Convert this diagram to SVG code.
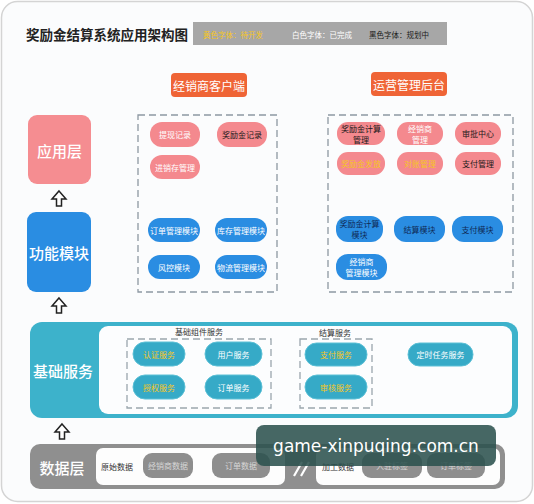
<svg xmlns="http://www.w3.org/2000/svg" width="534" height="504" viewBox="0 0 534 504">
<style>
text{font-family:"Noto Sans CJK SC","Liberation Sans",sans-serif;text-anchor:middle;dominant-baseline:central}
.app{fill:#f4898e}
.fn{fill:#2a8de2}
.bs{fill:#36aac7;stroke:#5cc0d6;stroke-width:1}
.dg{fill:#8e8e8e}
.dash{fill:none;stroke:#8d98a2;stroke-width:1.3;stroke-dasharray:7,4}
.t8{font-size:8px}
.w{fill:#ffffff}
.k{fill:#1a1a1a}
.nv{fill:#0f2a55}
.y{fill:#f5c623}
.lg{fill:#d6d6d6}
.big{font-size:15px;fill:#ffffff;font-weight:500}
.lbl{font-size:8px;fill:#333}
.arrow{fill:#ffffff;stroke:#222;stroke-width:1.5;stroke-linejoin:miter}
</style>
<rect x="1.5" y="1.5" width="531" height="500" rx="16" fill="#fbfcfd" stroke="#d4d4d4" stroke-width="1.5"/>
<g id="title">
<text x="107" y="34" style="font-size:13.5px;font-weight:bold;fill:#222">奖励金结算系统应用架构图</text>
</g>
<g id="legend">
<rect x="193" y="22" width="254" height="23" fill="#a7a7a7"/>
<text x="233" y="34" class="t8 y" style="font-size:7.5px">黄色字体：待开发</text>
<text x="322" y="34" class="t8 w" style="font-size:7.5px">白色字体：已完成</text>
<text x="399" y="34" class="t8 k" style="font-size:7.5px">黑色字体：规划中</text>
</g>
<g id="client-header">
<rect x="171" y="73" width="76" height="24" rx="4" fill="#ef6436"/>
<text x="209" y="85" style="font-size:12px;fill:#fff">经销商客户端</text>
</g>
<g id="ops-header">
<rect x="371" y="72" width="76" height="24" rx="4" fill="#ef6436"/>
<text x="409" y="84" style="font-size:12px;fill:#fff">运营管理后台</text>
</g>
<g id="layer-app">
<rect x="28" y="115" width="63" height="69" rx="9" fill="#f58d91"/>
<text x="59.5" y="150" class="big">应用层</text>
</g>
<g id="layer-fn">
<rect x="27" y="212" width="64" height="80" rx="9" fill="#2a8de2"/>
<text x="59" y="252" class="big">功能模块</text>
</g>
<g id="client-box">
<rect x="138" y="115" width="139" height="177" class="dash"/>
<rect x="150" y="122" width="50" height="25" rx="12" class="app"/>
<text x="175" y="134.5" class="t8 w">提现记录</text>
<rect x="217" y="122" width="50" height="25" rx="12" class="app"/>
<text x="242" y="134.5" class="t8 k">奖励金记录</text>
<rect x="150" y="155" width="50" height="24" rx="12" class="app"/>
<text x="175" y="167" class="t8 w">进销存管理</text>
<rect x="148" y="218" width="52" height="24" rx="12" class="fn"/>
<text x="174" y="230" class="t8 w">订单管理模块</text>
<rect x="215" y="218" width="52" height="24" rx="12" class="fn"/>
<text x="241" y="230" class="t8 w">库存管理模块</text>
<rect x="148" y="255" width="52" height="24" rx="12" class="fn"/>
<text x="174" y="267" class="t8 w">风控模块</text>
<rect x="215" y="255" width="52" height="24" rx="12" class="fn"/>
<text x="241" y="267" class="t8 w">物流管理模块</text>
</g>
<g id="ops-box">
<rect x="328" y="115" width="185" height="177" class="dash"/>
<rect x="337" y="122" width="48" height="23" rx="11" class="app"/>
<text x="361" y="128.5" class="t8 k">奖励金计算</text>
<text x="361" y="139" class="t8 k">管理</text>
<rect x="397" y="122" width="46" height="23" rx="11" class="app"/>
<text x="420" y="128.5" class="t8 w">经销商</text>
<text x="420" y="139" class="t8 w">管理</text>
<rect x="455" y="122" width="46" height="23" rx="11" class="app"/>
<text x="478" y="133.5" class="t8 k">审批中心</text>
<rect x="337" y="152" width="48" height="23" rx="11" class="app"/>
<text x="361" y="163.5" class="t8 y">奖励金发放</text>
<rect x="397" y="152" width="46" height="23" rx="11" class="app"/>
<text x="420" y="163.5" class="t8 y">对账管理</text>
<rect x="455" y="152" width="46" height="23" rx="11" class="app"/>
<text x="478" y="163.5" class="t8 k">支付管理</text>
<rect x="336" y="216" width="47" height="26" rx="12" class="fn"/>
<text x="359.5" y="223.5" class="t8 nv">奖励金计算</text>
<text x="359.5" y="234.5" class="t8 nv">模块</text>
<rect x="394" y="216" width="51" height="26" rx="12" class="fn"/>
<text x="419.5" y="229" class="t8 nv">结算模块</text>
<rect x="452" y="216" width="51" height="26" rx="12" class="fn"/>
<text x="477.5" y="229" class="t8 nv">支付模块</text>
<rect x="336" y="254" width="51" height="26" rx="12" class="fn"/>
<text x="361.5" y="261.5" class="t8 w">经销商</text>
<text x="361.5" y="272.5" class="t8 w">管理模块</text>
</g>
<g id="base-services">
<rect x="30" y="322" width="488" height="96" rx="12" fill="#3db2cb"/>
<rect x="99" y="326" width="413" height="88" rx="9" fill="#fcfdfe"/>
<text x="63" y="370" class="big">基础服务</text>
<text x="199" y="331" class="lbl">基础组件服务</text>
<rect x="127" y="339" width="144" height="69" class="dash" style="stroke:#9aa6ad"/>
<rect x="133" y="342" width="52" height="24" rx="12" class="bs"/>
<text x="159" y="354" class="t8 y">认证服务</text>
<rect x="205" y="342" width="57" height="24" rx="12" class="bs"/>
<text x="233.5" y="354" class="t8 w">用户服务</text>
<rect x="133" y="375" width="52" height="24" rx="12" class="bs"/>
<text x="159" y="387" class="t8 y">授权服务</text>
<rect x="205" y="375" width="57" height="24" rx="12" class="bs"/>
<text x="233.5" y="387" class="t8 w">订单服务</text>
<text x="335" y="332" class="lbl">结算服务</text>
<rect x="300" y="339" width="72" height="69" class="dash" style="stroke:#9aa6ad"/>
<rect x="305" y="343" width="62" height="23" rx="11.5" class="bs"/>
<text x="336" y="354.5" class="t8 y">支付服务</text>
<rect x="305" y="375" width="62" height="24" rx="12" class="bs"/>
<text x="336" y="387" class="t8 y">审核服务</text>
<rect x="408" y="343" width="65" height="23" rx="11.5" class="bs"/>
<text x="440.5" y="354.5" class="t8 w">定时任务服务</text>
</g>
<g id="data-layer">
<rect x="30" y="444" width="475" height="45" rx="10" fill="#8f8f8f"/>
<text x="62" y="467" class="big">数据层</text>
<rect x="96" y="448" width="189" height="37" rx="7" fill="#fdfdfd"/>
<text x="117" y="466" class="lbl">原始数据</text>
<rect x="143" y="453" width="50" height="25" rx="9" class="dg"/>
<text x="168" y="465.5" class="t8 lg">经销商数据</text>
<rect x="212" y="453" width="58" height="25" rx="9" class="dg"/>
<text x="241" y="465.5" class="t8 lg">订单数据</text>
<rect x="316" y="448" width="184" height="37" rx="7" fill="#fdfdfd"/>
<text x="338" y="466" class="lbl">加工数据</text>
<rect x="362" y="453" width="60" height="25" rx="9" class="dg"/>
<text x="392" y="465.5" class="t8 lg">入驻标签</text>
<rect x="427" y="453" width="58" height="25" rx="9" class="dg"/>
<text x="456" y="465.5" class="t8 lg">订单标签</text>
</g>
<g id="connectors">
<path class="arrow" d="M59,191 L66,199 L61.5,199 L61.5,206 L56.5,206 L56.5,199 L52,199 Z"/>
<path class="arrow" d="M59,298 L66,306 L61.5,306 L61.5,313 L56.5,313 L56.5,306 L52,306 Z"/>
<path class="arrow" d="M62,424 L69,432 L64.5,432 L64.5,439 L59.5,439 L59.5,432 L55,432 Z"/>
<path d="M294,476 L302,462 M301,476 L309,462" fill="none" stroke="#ffffff" stroke-width="2.2"/>
</g>
<g id="watermark">
<rect x="256" y="425" width="240" height="41" rx="8" fill="#2c524f" fill-opacity="0.88"/>
<text x="376" y="446" style="font-size:17px;fill:#ffffff;font-family:'DejaVu Sans','Noto Sans',sans-serif">game-xinpuqing.com.cn</text>
</g>
</svg>
